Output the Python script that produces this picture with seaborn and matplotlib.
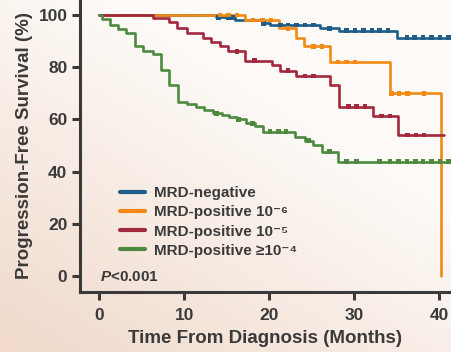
import numpy as np
import pandas as pd
import matplotlib
matplotlib.use("Agg")
import matplotlib.pyplot as plt
import seaborn as sns

# Kaplan-Meier step data (months, % progression-free)
groups = ["MRD-negative", "MRD-positive 10\u207b\u2076", "MRD-positive 10\u207b\u2075",
          "MRD-positive \u226510\u207b\u2074"]
colors = ["#1f5c87", "#f28a14", "#a3283d", "#4d8a3f"]

neg_t = [0, 13.7, 16.0, 19.1, 20.1, 26.0, 28.2, 35.0, 41.5]
neg_s = [100, 99.0, 98.1, 96.8, 96.2, 94.9, 94.0, 91.3, 91.3]
neg_c = [14.0, 15.2, 15.8, 19.3, 21.3, 22.2, 23.2, 24.2, 25.2, 27.1, 29.1, 30.1,
         31.1, 32.1, 33.0, 34.0, 36.2, 37.1, 38.1, 39.1, 40.1, 41.1]

p6_t = [0, 17.1, 21.2, 23.2, 24.1, 27.1, 34.2, 40.2]
p6_s = [100, 98.1, 94.9, 91.1, 87.9, 81.9, 70.0, 0]
p6_c = [14.2, 15.2, 16.2, 18.1, 19.2, 20.2, 22.2, 25.2, 26.2, 28.1, 29.1, 30.1,
        34.4, 35.3, 36.3, 38.2]

p5_t = [0, 6.3, 8.2, 9.2, 10.3, 12.2, 13.2, 14.2, 15.2, 17.1, 20.3, 21.3, 23.2,
        27.1, 28.2, 32.2, 35.2, 40.6]
p5_s = [100, 98.7, 97.1, 94.9, 93.0, 91.1, 89.8, 87.9, 86.0, 82.5, 80.8, 78.7,
        76.6, 73.2, 64.9, 61.3, 54.0, 54.0]
p5_c = [16.2, 18.3, 22.2, 24.2, 25.2, 29.3, 30.3, 31.3, 33.2, 34.2, 36.3, 37.3, 38.2]

p4_t = [0, 0.3, 1.3, 2.2, 3.1, 4.2, 5.2, 6.3, 7.3, 8.2, 9.3, 10.3, 11.4, 12.3,
        13.4, 14.4, 15.3, 16.2, 17.3, 18.3, 19.3, 23.0, 24.2, 25.2, 26.2, 28.1, 41.5]
p4_s = [100, 98.3, 96.2, 94.5, 93.0, 87.9, 86.0, 85.1, 78.9, 73.2, 66.8, 65.9,
        64.6, 63.6, 62.3, 61.7, 61.0, 60.0, 58.5, 57.5, 55.3, 53.1, 51.8, 50.1,
        47.6, 43.8, 43.8]
p4_c = [13.8, 16.4, 18.0, 20.1, 21.1, 22.0, 24.6, 27.1, 29.1, 30.3, 33.0, 34.2,
        35.2, 36.2, 37.2, 38.1, 39.1, 40.1, 41.1]

x_ticks = [0, 10, 20, 30, 40]
y_ticks = [0, 20, 40, 60, 80, 100]

curves = [(neg_t, neg_s, neg_c), (p6_t, p6_s, p6_c), (p5_t, p5_s, p5_c), (p4_t, p4_s, p4_c)]

steps, cens = [], []
for g, (t, s, c) in zip(groups, curves):
    steps.append(pd.DataFrame({"time": t, "surv": s, "group": g}))
    t_arr, s_arr = np.array(t), np.array(s)
    idx = np.searchsorted(t_arr, c, side="right") - 1
    cens.append(pd.DataFrame({"time": c, "surv": s_arr[idx], "group": g}))
df = pd.concat(steps, ignore_index=True)
df_c = pd.concat(cens, ignore_index=True)

sns.set_style("ticks")
ink = "#3a3a3a"
plt.rcParams["font.family"] = ["Liberation Sans", "DejaVu Sans"]
plt.rcParams["font.weight"] = "bold"
plt.rcParams["mathtext.fontset"] = "custom"
plt.rcParams["mathtext.rm"] = "Liberation Sans:bold"
plt.rcParams["mathtext.it"] = "Liberation Sans:italic:bold"
plt.rcParams["text.color"] = ink
plt.rcParams["axes.labelcolor"] = ink
plt.rcParams["xtick.color"] = ink
plt.rcParams["ytick.color"] = ink

fig = plt.figure(figsize=(4.51, 3.52), dpi=100)

# soft warm background
bg = fig.add_axes([0, 0, 1, 1], zorder=-5)
gx, gy = np.meshgrid(np.linspace(0, 1, 200), np.linspace(1, 0, 160))
w = np.clip((1 - gx) * 0.7 + (1 - gy) * 0.9 - 0.55, 0, 1)
c0 = np.array([253, 250, 247]) / 255
c1 = np.array([240, 218, 204]) / 255
bg.imshow(c0 + (c1 - c0) * w[..., None], aspect="auto", extent=[0, 1, 0, 1])
bg.axis("off")

ax = fig.add_axes([80 / 451, 60.3 / 352, 371 / 451, 291.7 / 352])
ax.patch.set_alpha(0)
palette = dict(zip(groups, colors))

sns.lineplot(data=df, x="time", y="surv", hue="group", hue_order=groups,
             palette=palette, estimator=None, drawstyle="steps-post",
             linewidth=1.9, ax=ax)
sns.scatterplot(data=df_c, x="time", y="surv", hue="group", hue_order=groups,
                palette=palette, marker="s", s=11, linewidth=0, legend=False,
                ax=ax, zorder=3)

ax.set_xlim(-2.27, 41.4)
ax.set_ylim(-6.0, 105.7)
ax.set_xticks(x_ticks)
ax.set_yticks(y_ticks)
sns.despine(ax=ax)
for sp in ["left", "bottom"]:
    ax.spines[sp].set_linewidth(2.2)
    ax.spines[sp].set_color(ink)
ax.tick_params(length=6, width=2.2, labelsize=12.5, pad=3)
ax.tick_params(axis="x", pad=5.5)
for lab in ax.get_xticklabels() + ax.get_yticklabels():
    lab.set_fontweight("bold")

ax.set_xlabel("Time From Diagnosis (Months)", fontsize=13.5, fontweight="bold", labelpad=5)
ax.set_ylabel("Progression-Free Survival (%)", fontsize=13.5, fontweight="bold", labelpad=4)

handles, labels = ax.get_legend_handles_labels()
leg = ax.legend(handles, labels, loc="center left", bbox_to_anchor=(0.108, 0.239),
                frameon=False, borderpad=0, borderaxespad=0, handlelength=1.64,
                handletextpad=0.6, labelspacing=0.34,
                prop={"weight": "bold", "size": 11})
for h in leg.get_lines():
    h.set_linewidth(3)

ax.text(0.054, 0.051, "$\\mathit{P}$<0.001", transform=ax.transAxes,
        ha="left", va="center", fontsize=11, fontweight="bold")

fig.savefig("out.png", dpi=100)
